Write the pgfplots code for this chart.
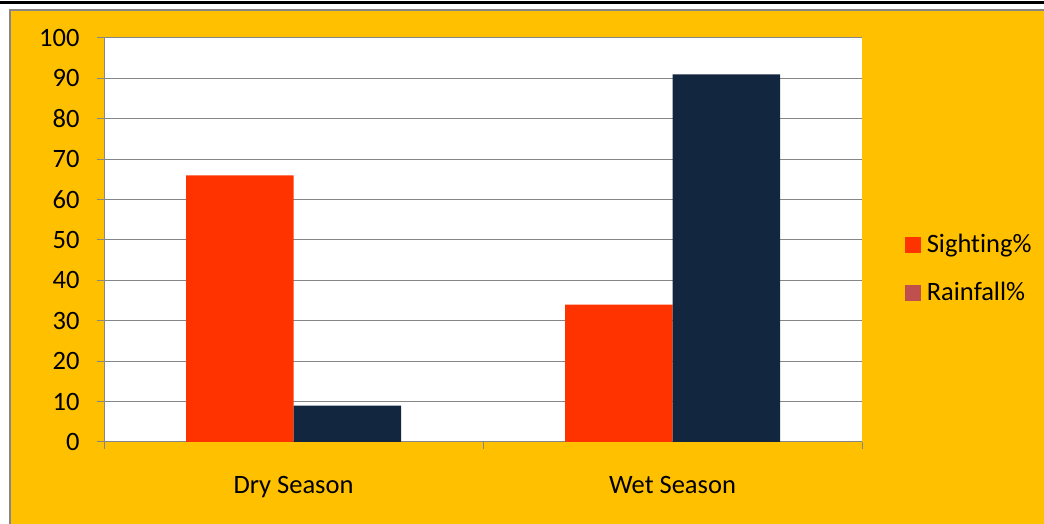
\documentclass[border=0pt]{standalone}
\usepackage{pgfplots}
\pgfplotsset{compat=1.18}
\usepackage{fontspec}
\setmainfont{Carlito}[Ligatures=NoCommon]
\definecolor{bgor}{HTML}{FFC000}
\definecolor{sight}{HTML}{FF3300}
\definecolor{rain}{HTML}{13263F}
\definecolor{rainleg}{HTML}{C0504D}
\definecolor{gl}{HTML}{868686}
\begin{document}
\begin{tikzpicture}[x=1pt,y=1pt]
\path[use as bounding box] (0,0) rectangle (1044,524);
\fill[bgor] (10,0) rectangle (1044,514);
\draw[gl,line width=2pt] (10,0) -- (10,514) -- (1044,514);
\draw[black,line width=3pt] (0,521) -- (1044,521);
\begin{axis}[
  at={(104pt,82pt)}, anchor=south west,
  width=758pt, height=404pt, scale only axis,
  ybar=0pt, bar width=107.5pt,
  xmin=-0.5, xmax=1.5, ymin=0, ymax=100,
  ytick={0,10,...,100},
  xtick={-0.5,0.5,1.5}, xticklabels={},
  extra x ticks={0,1},
  extra x tick labels={Dry Season, Wet Season},
  extra x tick style={major tick length=0pt, grid=none},
  axis x line*=bottom, axis y line*=left,
  axis line style={gl, line width=1pt},
  tick style={gl, line width=1pt},
  major tick length=7pt, tick align=outside,
  ymajorgrids, grid style={gl, line width=1pt},
  axis background/.style={fill=white},
  font=\fontsize{26.5}{31}\selectfont,
  ticklabel style={font=\fontsize{26.5}{31}\selectfont},
  xticklabel style={yshift=-31pt},
  yticklabel style={xshift=-14pt},
  /pgf/number format/assume math mode=true,
  legend style={at={(1.057,0.43)}, anchor=west, draw=none, fill=none,
    font=\fontsize{26.5}{31}\selectfont, row sep=22pt, inner sep=0pt,
    nodes={inner sep=3pt}},
  legend cell align=left,
]
\addlegendimage{legend image code/.code={\fill[sight] (0pt,-8pt) rectangle (15pt,7pt);\path (18pt,0pt);}}
\addlegendentry{Sighting\%}
\addlegendimage{legend image code/.code={\fill[rainleg] (0pt,-8pt) rectangle (15pt,7pt);\path (18pt,0pt);}}
\addlegendentry{Rainfall\%}
\addplot[fill=sight, draw=none, forget plot, bar shift=-53.75pt] coordinates {(0,66) (1,34)};
\addplot[fill=rain, draw=none, forget plot, bar shift=53.75pt] coordinates {(0,9) (1,91)};
\end{axis}
\end{tikzpicture}
\end{document}
